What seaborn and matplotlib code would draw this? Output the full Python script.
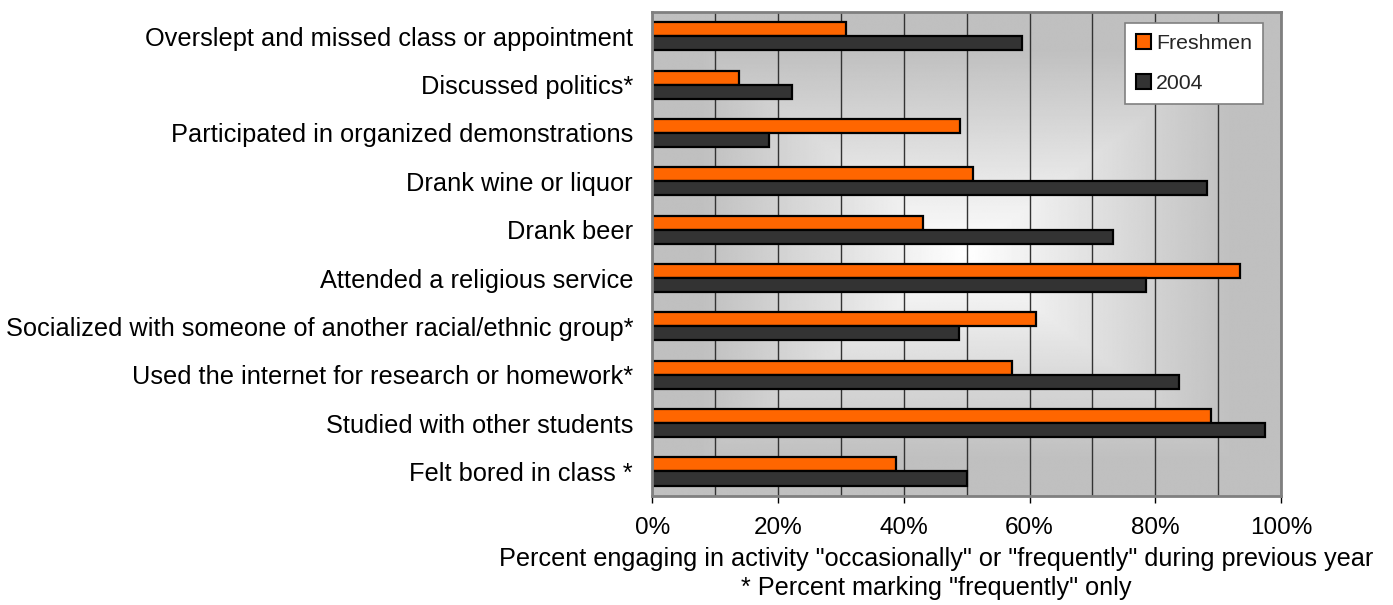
import numpy as np
import pandas as pd
import matplotlib
matplotlib.use("Agg")
import matplotlib.pyplot as plt
import seaborn as sns
from matplotlib.ticker import MultipleLocator, FixedLocator, FixedFormatter

categories = [
    "Overslept and missed class or appointment",
    "Discussed politics*",
    "Participated in organized demonstrations",
    "Drank wine or liquor",
    "Drank beer",
    "Attended a religious service",
    "Socialized with someone of another racial/ethnic group*",
    "Used the internet for research or homework*",
    "Studied with other students",
    "Felt bored in class *",
]
freshmen = [30.8, 13.8, 49.0, 51.0, 43.1, 93.5, 61.0, 57.2, 88.9, 38.7]
y2004 = [58.8, 22.2, 18.6, 88.2, 73.2, 78.5, 48.7, 83.8, 97.4, 50.0]
series_names = ["Freshmen", "2004"]
series_colors = ["#FF6600", "#333333"]
x_ticks = [0, 20, 40, 60, 80, 100]
x_tick_labels = ["0%", "20%", "40%", "60%", "80%", "100%"]
x_label = ('Percent engaging in activity "occasionally" or "frequently" during previous year\n'
           '* Percent marking "frequently" only')

df = pd.DataFrame({
    "activity": categories * 2,
    "series": [series_names[0]] * len(categories) + [series_names[1]] * len(categories),
    "percent": freshmen + y2004,
})

sns.set_theme(style="white")
plt.rcParams["font.family"] = ["Liberation Sans", "DejaVu Sans"]

fig = plt.figure(figsize=(13.93, 6.05), dpi=100)
ax = fig.add_axes([0.4684, 0.1807, 0.4512, 0.7995])

sns.barplot(data=df, y="activity", x="percent", hue="series", orient="h",
            order=categories, hue_order=series_names,
            palette=dict(zip(series_names, series_colors)),
            width=0.58, edgecolor="black", linewidth=1.6, saturation=1,
            errorbar=None, ax=ax)

ax.set_xlim(0, 100)
ax.set_ylim(len(categories) - 0.5, -0.5)

# rectangular "from center" gradient background
u = np.linspace(-1, 1, 500)
v = np.linspace(-1, 1, 500)
U, V = np.meshgrid(u, v)
t = np.maximum(np.abs(U), np.abs(V))
grey = 0.75
img = 1.0 - (1.0 - grey) * np.clip(t / 0.85, 0, 1)
ax.imshow(img, cmap="gray", vmin=0, vmax=1, extent=[0, 1, 0, 1],
          transform=ax.transAxes, aspect="auto", zorder=0, interpolation="bilinear")
ax.set_xlim(0, 100)
ax.set_ylim(len(categories) - 0.5, -0.5)

ax.xaxis.set_major_locator(FixedLocator(x_ticks))
ax.xaxis.set_major_formatter(FixedFormatter(x_tick_labels))
ax.xaxis.set_minor_locator(MultipleLocator(10))
ax.set_axisbelow(True)
ax.grid(True, axis="x", which="both", color="#333333", linewidth=1)
ax.grid(False, axis="y")

ax.tick_params(axis="x", which="major", direction="out", length=5, width=1,
               color="black", pad=10, labelsize=17.5, bottom=True, labelcolor="black")
ax.tick_params(axis="x", which="minor", length=0, bottom=False)
ax.tick_params(axis="y", length=0, pad=14, labelsize=18.3, labelcolor="black")

ax.set_ylabel("")
ax.set_xlabel(x_label, fontsize=18.2, color="black", linespacing=1.25)
ax.xaxis.set_label_coords(0.451, -0.106)

for s in ax.spines.values():
    s.set_visible(True)
    s.set_color("#808080")
    s.set_linewidth(2)

handles, labels = ax.get_legend_handles_labels()
leg = ax.legend(handles, labels, loc="upper right", bbox_to_anchor=(0.971, 0.977),
                frameon=True, fancybox=False, edgecolor="#808080", facecolor="white",
                framealpha=1, fontsize=15.3, handlelength=0.7, handleheight=0.7,
                handletextpad=0.25, labelspacing=1.0, borderpad=0.5, borderaxespad=0)
leg.get_frame().set_linewidth(1.2)
for h in leg.legend_handles:
    h.set_edgecolor("black")
    h.set_linewidth(1.5)

fig.savefig("out.png", dpi=100)
